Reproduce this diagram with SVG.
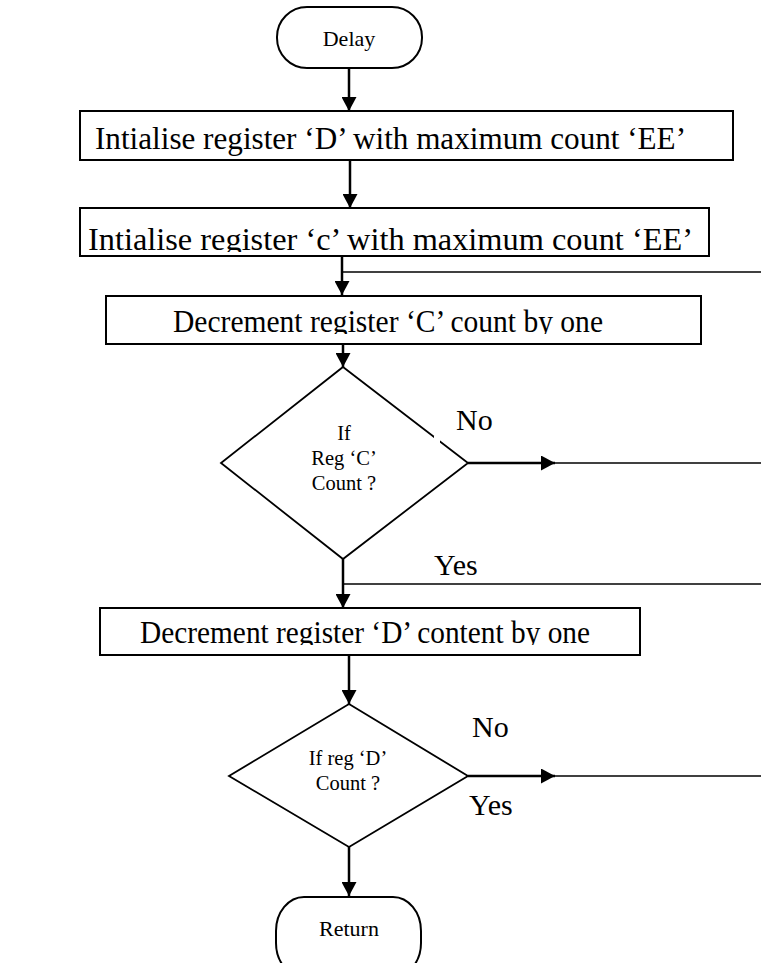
<svg xmlns="http://www.w3.org/2000/svg" width="761" height="963" viewBox="0 0 761 963">
  <style>
    .box { fill: #fff; stroke: #000; stroke-width: 2; }
    .term { fill: #fff; stroke: #000; stroke-width: 2; }
    .dia { fill: #fff; stroke: #000; stroke-width: 1.8; }
    .t { font-family: "Liberation Serif", "Times New Roman", serif; fill: #000; }
    .big { font-size: 32px; }
    .lbl { font-size: 30px; }
    .mid { font-size: 22px; }
    .small { font-size: 20.5px; }
    .flow { fill: none; stroke: #000; stroke-width: 2.5; }
    .thin { fill: none; stroke: #000; stroke-width: 1.6; }
  </style>
  <defs>
    <marker id="arrow" markerUnits="userSpaceOnUse" viewBox="0 0 14 15" refX="14" refY="7.5" markerWidth="14" markerHeight="15" orient="auto">
      <path d="M0,0 L14,7.5 L0,15 Z" fill="#000"/>
    </marker>
    <clipPath id="clipB2"><rect x="80" y="208" width="629" height="44"/></clipPath>
    <clipPath id="clipB3"><rect x="106" y="296" width="595" height="38"/></clipPath>
    <clipPath id="clipB4"><rect x="100" y="608" width="540" height="37"/></clipPath>
  </defs>

  <g id="connectors">
    <path class="flow" d="M349,68 V111" marker-end="url(#arrow)"/>
    <path class="flow" d="M350,160 V208" marker-end="url(#arrow)"/>
    <path class="flow" d="M342,256 V295" marker-end="url(#arrow)"/>
    <path class="thin" d="M761,272 H342"/>
    <path class="flow" d="M343,344 V367" marker-end="url(#arrow)"/>
    <path class="flow" d="M468,463 H555" marker-end="url(#arrow)"/>
    <path class="thin" d="M555,463 H761"/>
    <path class="flow" d="M343,559 V608" marker-end="url(#arrow)"/>
    <path class="thin" d="M761,584 H343"/>
    <path class="flow" d="M349,655 V704" marker-end="url(#arrow)"/>
    <path class="flow" d="M468,776 H555" marker-end="url(#arrow)"/>
    <path class="thin" d="M555,776 H761"/>
    <path class="flow" d="M349,847 V896" marker-end="url(#arrow)"/>
  </g>

  <g id="start">
    <rect class="term" x="277" y="7" width="145" height="61" rx="30" ry="30"/>
    <text class="t mid" x="349" y="46" text-anchor="middle">Delay</text>
  </g>

  <g id="init-d">
    <rect class="box" x="80" y="111" width="653" height="49"/>
    <text class="t big" x="95" y="149" textLength="591" lengthAdjust="spacingAndGlyphs">Intialise register ‘D’ with maximum count ‘EE’</text>
  </g>

  <g id="init-c">
    <rect class="box" x="80" y="208" width="629" height="48"/>
    <text class="t big" x="88" y="250" textLength="605" lengthAdjust="spacingAndGlyphs" clip-path="url(#clipB2)">Intialise register ‘c’ with maximum count ‘EE’</text>
  </g>

  <g id="dec-c">
    <rect class="box" x="106" y="296" width="595" height="48"/>
    <text class="t big" x="173" y="332" textLength="430" lengthAdjust="spacingAndGlyphs" clip-path="url(#clipB3)">Decrement register ‘C’ count by one</text>
  </g>

  <g id="test-c">
    <polygon class="dia" points="343,367 468,463 343,559 221,463"/>
    <text class="t small" x="344" y="440" text-anchor="middle">If</text>
    <text class="t small" x="344" y="465" text-anchor="middle">Reg ‘C’</text>
    <text class="t small" x="344" y="490" text-anchor="middle">Count ?</text>
  </g>

  <g id="label-c-no">
    <rect x="434" y="436" width="6" height="7" fill="#fff"/>
    <text class="t lbl" x="456" y="430">No</text>
  </g>
  <g id="label-c-yes">
    <text class="t lbl" x="434" y="575">Yes</text>
  </g>

  <g id="dec-d">
    <rect class="box" x="100" y="608" width="540" height="47"/>
    <text class="t big" x="140" y="643" textLength="450" lengthAdjust="spacingAndGlyphs" clip-path="url(#clipB4)">Decrement register ‘D’ content by one</text>
  </g>

  <g id="test-d">
    <polygon class="dia" points="349,704 468,776 349,847 229,776"/>
    <text class="t small" x="348" y="765" text-anchor="middle">If reg ‘D’</text>
    <text class="t small" x="348" y="790" text-anchor="middle">Count ?</text>
  </g>

  <g id="label-d-no">
    <text class="t lbl" x="472" y="737">No</text>
  </g>
  <g id="label-d-yes">
    <text class="t lbl" x="469" y="815">Yes</text>
  </g>

  <g id="end">
    <rect class="term" x="276" y="897" width="145" height="80" rx="28" ry="34"/>
    <text class="t mid" x="349" y="936" text-anchor="middle">Return</text>
  </g>
</svg>
